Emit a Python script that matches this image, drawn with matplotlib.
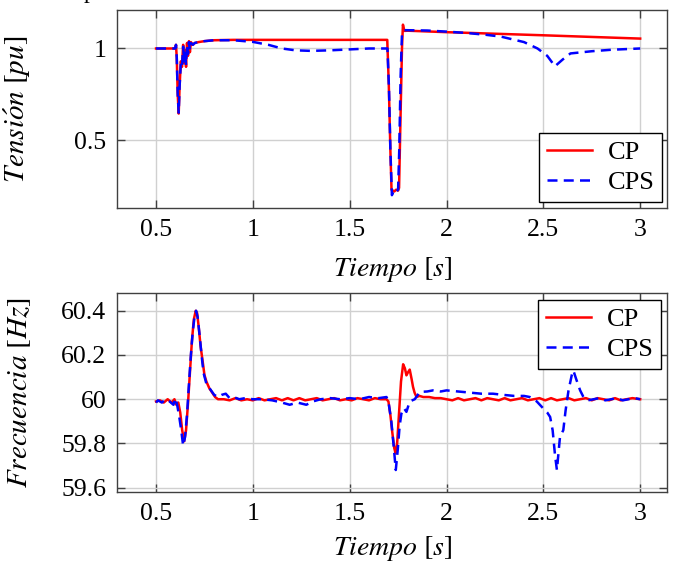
import matplotlib
matplotlib.use("Agg")
import matplotlib.pyplot as plt

# --- data ---
t_v_cp = [0.50, 0.60, 0.603, 0.607, 0.612, 0.617, 0.622, 0.628, 0.634, 0.640, 0.645,
          0.650, 0.655, 0.660, 0.665, 0.670, 0.675, 0.680, 0.690, 0.70, 0.72, 0.75,
          0.80, 0.90, 1.00, 1.694, 1.702, 1.710, 1.716, 1.73, 1.74, 1.75, 1.755,
          1.762, 1.770, 1.775, 1.782, 1.80, 2.0, 2.5, 3.0]
v_cp = [1.0, 1.0, 1.02, 0.95, 0.75, 0.645, 0.80, 0.93, 0.90, 1.02, 0.92,
        0.99, 0.90, 1.03, 0.96, 1.04, 0.98, 1.035, 1.02, 1.03, 1.035, 1.04,
        1.045, 1.047, 1.047, 1.047, 0.80, 0.45, 0.23, 0.22, 0.23, 0.225, 0.24,
        0.60, 1.0, 1.13, 1.096, 1.097, 1.089, 1.072, 1.054]

t_v_cps = [0.50, 0.60, 0.603, 0.607, 0.612, 0.617, 0.622, 0.628, 0.634, 0.640, 0.645,
           0.650, 0.655, 0.660, 0.665, 0.670, 0.675, 0.680, 0.690, 0.70, 0.72, 0.75,
           0.80, 0.90, 1.00, 1.08, 1.15, 1.22, 1.30, 1.40, 1.50, 1.60, 1.695,
           1.703, 1.710, 1.718, 1.73, 1.74, 1.75, 1.756, 1.763, 1.770, 1.78,
           1.90, 2.00, 2.10, 2.20, 2.28, 2.40, 2.47, 2.52, 2.56, 2.60, 2.64,
           2.75, 2.85, 3.00]
v_cps = [1.0, 1.0, 1.02, 0.95, 0.75, 0.65, 0.80, 0.92, 0.90, 1.01, 0.93,
         0.99, 0.91, 1.02, 0.97, 1.035, 0.99, 1.03, 1.02, 1.03, 1.035, 1.04,
         1.045, 1.045, 1.036, 1.02, 1.0, 0.99, 0.987, 0.99, 0.995, 1.0, 1.0,
         0.78, 0.45, 0.20, 0.23, 0.22, 0.23, 0.45, 0.85, 1.08, 1.10,
         1.098, 1.092, 1.085, 1.075, 1.065, 1.035, 1.0, 0.96, 0.903, 0.94, 0.973,
         0.985, 0.993, 1.0]

t_f_cp = [0.50, 0.52, 0.54, 0.56, 0.58, 0.595, 0.605, 0.615, 0.625, 0.635, 0.645,
          0.655, 0.665, 0.675, 0.685, 0.695, 0.705, 0.712, 0.72, 0.73, 0.741, 0.75,
          0.76, 0.775, 0.79, 0.805, 0.82, 0.85, 0.88, 0.91, 0.94, 0.97, 1.00,
          1.03, 1.06, 1.09, 1.12, 1.15, 1.18, 1.21, 1.24, 1.27, 1.30, 1.33,
          1.36, 1.39, 1.42, 1.45, 1.48, 1.51, 1.54, 1.57, 1.60, 1.63, 1.66,
          1.69, 1.70, 1.71, 1.72, 1.73, 1.737, 1.745, 1.755, 1.765, 1.776, 1.785,
          1.793, 1.80, 1.81, 1.82, 1.827, 1.835, 1.845, 1.86, 1.88, 1.91, 1.94,
          1.97, 2.00, 2.03, 2.06, 2.09, 2.12, 2.15, 2.18, 2.21, 2.24, 2.27,
          2.30, 2.33, 2.36, 2.39, 2.42, 2.45, 2.48, 2.51, 2.54, 2.57, 2.60,
          2.63, 2.66, 2.69, 2.72, 2.75, 2.78, 2.81, 2.84, 2.87, 2.90, 2.93,
          2.96, 3.00]
f_cp = [59.99, 59.995, 59.985, 60.0, 59.985, 60.0, 59.975, 59.985, 59.94, 59.86, 59.81,
        59.86, 59.98, 60.12, 60.26, 60.36, 60.40, 60.39, 60.33, 60.24, 60.17, 60.11,
        60.08, 60.05, 60.03, 60.01, 60.0, 60.0, 59.995, 60.005, 59.995, 60.0, 59.995,
        60.005, 59.995, 60.0, 60.005, 59.995, 60.005, 59.995, 60.005, 59.995, 60.0, 60.005,
        59.995, 60.0, 60.005, 59.995, 60.0, 59.995, 60.005, 60.0, 59.995, 60.005, 60.0,
        60.0, 59.99, 59.93, 59.85, 59.78, 59.755, 59.80, 59.94, 60.08, 60.158, 60.14,
        60.108, 60.12, 60.134, 60.09, 60.056, 60.03, 60.01, 60.015, 60.01, 60.01, 60.005,
        60.005, 60.0, 59.995, 60.005, 59.995, 60.0, 60.005, 59.995, 60.005, 60.0, 59.995,
        60.005, 59.995, 60.0, 60.005, 59.995, 60.0, 60.005, 59.995, 60.005, 59.995, 60.0,
        60.005, 59.995, 60.0, 60.005, 59.995, 60.005, 60.0, 59.995, 60.005, 59.995, 60.0,
        60.005, 60.0]

t_f_cps = [0.50, 0.51, 0.53, 0.55, 0.57, 0.59, 0.60, 0.61, 0.62, 0.63, 0.64,
           0.65, 0.66, 0.67, 0.68, 0.69, 0.70, 0.707, 0.715, 0.725, 0.735, 0.745,
           0.76, 0.78, 0.80, 0.82, 0.84, 0.86, 0.88, 0.90, 0.93, 0.96, 1.00,
           1.05, 1.10, 1.15, 1.19, 1.23, 1.276, 1.31, 1.35, 1.40, 1.45, 1.50,
           1.55, 1.60, 1.65, 1.69, 1.70, 1.715, 1.728, 1.738, 1.748, 1.758, 1.767,
           1.78, 1.793, 1.81, 1.836, 1.862, 1.90, 1.93, 1.97, 2.00, 2.06, 2.12,
           2.18, 2.24, 2.29, 2.35, 2.40, 2.43, 2.466, 2.50, 2.52, 2.535, 2.548,
           2.56, 2.57, 2.586, 2.603, 2.615, 2.63, 2.647, 2.655, 2.67, 2.69, 2.707,
           2.73, 2.76, 2.79, 2.82, 2.85, 2.88, 2.91, 2.94, 2.97, 3.00]
f_cps = [59.985, 59.995, 59.985, 60.0, 59.99, 59.975, 60.005, 59.97, 59.92, 59.86, 59.79,
         59.83, 59.93, 60.07, 60.20, 60.31, 60.38, 60.40, 60.37, 60.29, 60.20, 60.12,
         60.07, 60.045, 60.02, 60.01, 60.02, 60.025, 60.005, 60.01, 60.0, 60.005, 60.0,
         60.0, 59.995, 59.985, 59.975, 59.985, 59.975, 59.99, 60.0, 60.005, 60.0, 60.005,
         60.0, 60.01, 60.005, 60.01, 59.99, 59.90, 59.78, 59.68, 59.77, 59.88, 59.935,
         59.96, 59.943, 59.99, 60.0, 60.033, 60.035, 60.04, 60.035, 60.04, 60.035, 60.03,
         60.025, 60.025, 60.02, 60.015, 60.015, 60.01, 59.99, 59.958, 59.94, 59.92, 59.86,
         59.75, 59.68, 59.83, 59.86, 59.95, 60.04, 60.11, 60.13, 60.09, 60.04, 60.01,
         59.995, 60.0, 60.005, 59.995, 60.0, 60.005, 59.995, 60.0, 60.005, 60.0]

x_ticks = [0.5, 1, 1.5, 2, 2.5, 3]
x_tick_labels = ["0.5", "1", "1.5", "2", "2.5", "3"]
v_ticks = [0.5, 1]
v_tick_labels = ["0.5", "1"]
f_ticks = [59.6, 59.8, 60.0, 60.2, 60.4]
f_tick_labels = ["59.6", "59.8", "60", "60.2", "60.4"]

plt.rcParams['font.family'] = ['Liberation Serif', 'DejaVu Serif']
plt.rcParams['mathtext.fontset'] = 'stix'

fig = plt.figure(figsize=(6.73, 5.64), dpi=100)
ax1 = fig.add_axes([0.1743, 0.6312, 0.8172, 0.3511])
ax2 = fig.add_axes([0.1743, 0.1282, 0.8172, 0.3518])

spine_col = "#404040"
for ax in (ax1, ax2):
    ax.set_xlim(0.3, 3.14)
    ax.set_xticks(x_ticks)
    ax.set_xticklabels(x_tick_labels)
    ax.grid(True, color="#d0d0d0", linewidth=1.0)
    ax.set_axisbelow(True)
    ax.tick_params(direction="in", length=6, width=1, color=spine_col,
                   top=True, right=True, labelsize=18.5, pad=8)
    for s in ax.spines.values():
        s.set_color(spine_col)
        s.set_linewidth(1.0)
    ax.set_xlabel(r"$Tiempo\ [s]$", fontsize=20)

ax1.xaxis.set_label_coords(0.5, -0.235)
ax2.xaxis.set_label_coords(0.5, -0.215)

ax1.plot(t_v_cp, v_cp, color="red", lw=1.8, label="CP")
ax1.plot(t_v_cps, v_cps, color="blue", lw=1.8, ls=(0, (4, 2.5)), label="CPS")
ax1.set_ylim(0.13, 1.21)
ax1.set_yticks(v_ticks)
ax1.set_yticklabels(v_tick_labels)
ax1.set_ylabel(r"$Tensi\acute{o}n\ [pu]$", fontsize=21)
ax1.yaxis.set_label_coords(-0.153, 0.5)

ax2.plot(t_f_cp, f_cp, color="red", lw=1.8, label="CP")
ax2.plot(t_f_cps, f_cps, color="blue", lw=1.8, ls=(0, (4, 2.5)), label="CPS")
ax2.set_ylim(59.582, 60.479)
ax2.set_yticks(f_ticks)
ax2.set_yticklabels(f_tick_labels)
ax2.set_ylabel(r"$Frecuencia\ [Hz]$", fontsize=21)
ax2.yaxis.set_label_coords(-0.153, 0.5)

leg_kw = dict(fontsize=19, frameon=True, fancybox=False, edgecolor="black",
              framealpha=1, borderaxespad=0, handlelength=1.7,
              handletextpad=0.6, labelspacing=0.25, borderpad=0.3)
l1 = ax1.legend(loc="lower right", bbox_to_anchor=(0.991, 0.03), **leg_kw)
l2 = ax2.legend(loc="upper right", bbox_to_anchor=(0.989, 0.966), **leg_kw)
for lg in (l1, l2):
    lg.get_frame().set_linewidth(1.0)

# clipped caption remnant at the very top
fig.text(89 / 673, 1.0 + 2 / 564, "p", fontsize=17, ha="center", va="baseline")

fig.savefig("out.png", dpi=100)
